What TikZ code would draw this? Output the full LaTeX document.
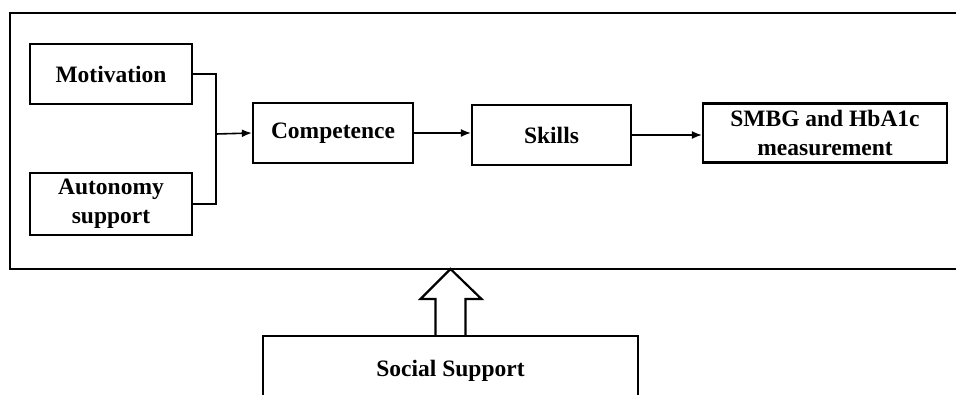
\documentclass[tikz,border=0pt]{standalone}
\usepackage{fontspec}
\setmainfont{Liberation Serif}
\usetikzlibrary{arrows.meta}

\begin{document}
\begin{tikzpicture}[x=1pt,y=-1pt,
    box/.style={draw,line width=2.2pt,align=center,inner sep=0pt,
      font=\bfseries\fontsize{23.5}{29}\selectfont},
    link/.style={line width=1.6pt,-{Latex[length=10pt,width=8pt]}}]
    \useasboundingbox (0,0) rectangle (956,394);
    \clip (0,0) rectangle (956,394);
    % Outer frame
    \draw[line width=2.2pt] (980,269) -- (10,269) -- (10,13) -- (980,13);
    % Boxes
    \node[box,minimum width=162pt,minimum height=60pt] (motiv) at (111,74) {Motivation};
    \node[box,minimum width=162pt,minimum height=62pt] (auto) at (111,204) {Autonomy\\support};
    \node[box,minimum width=160pt,minimum height=60pt] (comp) at (333,133) {Competence};
    \node[box,minimum width=159pt,minimum height=60pt] (skills) at (551.5,135) {Skills};
    \node[box,minimum width=244pt,minimum height=59pt] (smbg) at (825,133) {SMBG and HbA1c\\measurement};
    \node[box,minimum width=375pt,minimum height=70pt,anchor=north] (social) at (450.5,335) {Social Support};
    % Joining bracket
    \coordinate (join) at (216,134);
    \draw[line width=2.2pt] (motiv.east) -| (join);
    \draw[line width=2.2pt] (auto.east) -| (join);
    % Arrows
    \draw[link] (join) -- (comp.west);
    \draw[link] (comp.east) -- (comp.east -| skills.west);
    \draw[link] (skills.east) -- (skills.east -| smbg.west);
    % Hollow arrow
    \draw[line width=2.2pt,line join=miter] (social.north) ++(-15,0) -- ++(0,-36) -- ++(-15,0)
      -- ++(30,-30) -- ++(31,30) -- ++(-16,0) -- ++(0,36);
\end{tikzpicture}
\end{document}
